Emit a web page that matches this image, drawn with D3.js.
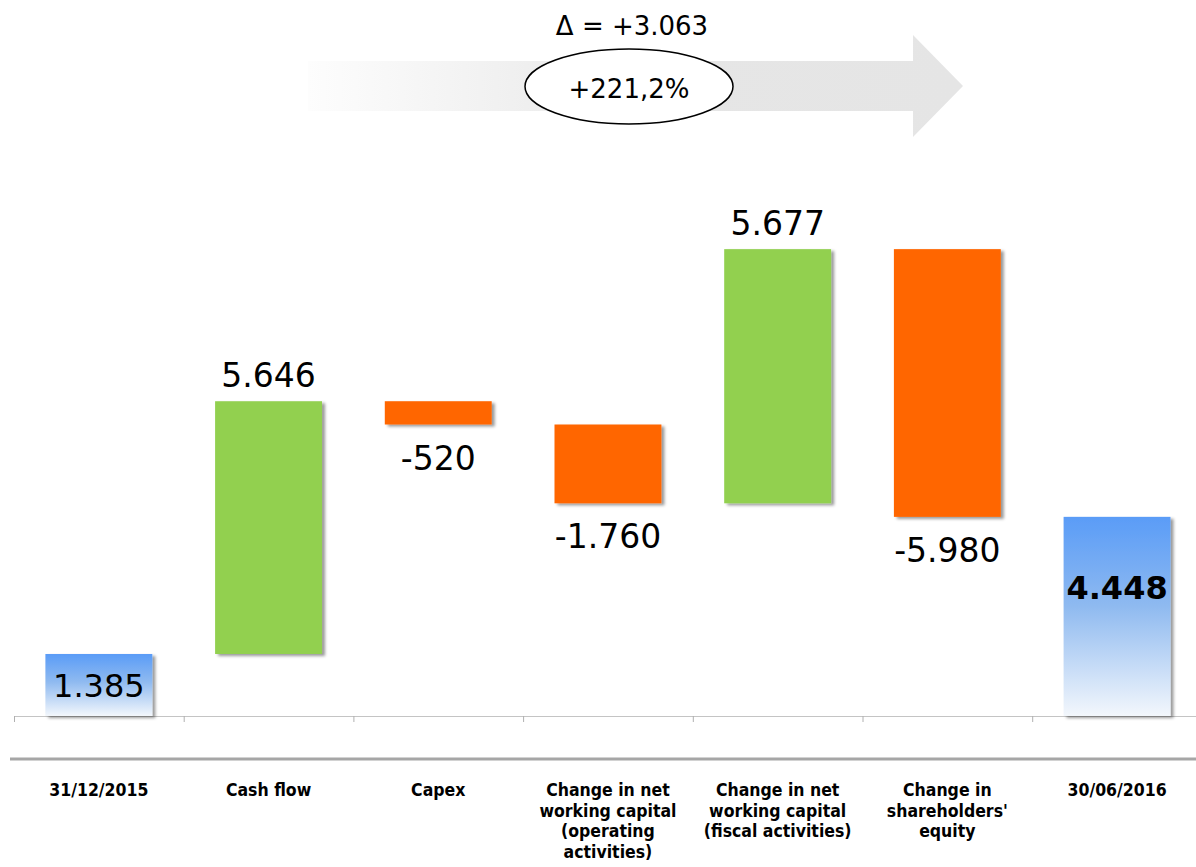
<!DOCTYPE html>
<html>
<head>
<meta charset="utf-8">
<script src="https://cdnjs.cloudflare.com/ajax/libs/d3/7.8.5/d3.min.js"></script>
<style>
  body { margin: 0; background: #fff; }
  svg { display: block; font-family: "DejaVu Sans", Verdana, sans-serif; }
</style>
</head>
<body>
<div id="chart"></div>
<script>
// Waterfall: net financial position bridge 31/12/2015 -> 30/06/2016
var categories = ["31/12/2015", "Cash flow", "Capex", "NWC operating", "NWC fiscal", "Equity", "30/06/2016"];
var categoryLabels = [
	["31/12/2015"],
	["Cash flow"],
	["Capex"],
	["Change in net", "working capital", "(operating", "activities)"],
	["Change in net", "working capital", "(fiscal activities)"],
	["Change in", "shareholders'", "equity"],
	["30/06/2016"]
];
var barTypes = ["total", "delta", "delta", "delta", "delta", "delta", "total"];
var values = [1385, 5646, -520, -1760, 5677, -5980, 4448];

var W = 1196, H = 867;
var baseY = 716;

var it = d3.formatLocale({decimal: ",", thousands: ".", grouping: [3], currency: ["", "€"], minus: "-"});
var fmt = it.format(",d");
var pct = it.format("+.1f");

// running totals
var run = 0;
var bars = values.map(function(v, i) {
	var d = {cat: categories[i], type: barTypes[i], value: v, lines: categoryLabels[i]};
	if (barTypes[i] == "total") {
		d.start = 0; d.end = v; run = v;
	} else {
		d.start = run; d.end = run + v; run = d.end;
	}
	return d;
});

var x = d3.scaleBand()
	.domain(categories)
	.range([14, 14 + 7 * 169.7])
	.paddingInner(0.37)
	.paddingOuter(0.185);

var y = d3.scaleLinear()
	.domain([0, 6000])
	.range([baseY, baseY - 6000 * 0.04477]);

var svg = d3.select("#chart").append("svg")
	.attr("width", W)
	.attr("height", H);

var defs = svg.append("defs");

var blue = defs.append("linearGradient")
	.attr("id", "blueGrad")
	.attr("x1", 0).attr("y1", 0).attr("x2", 0).attr("y2", 1);
blue.append("stop").attr("offset", "0%").attr("stop-color", "#5a9cf7");
blue.append("stop").attr("offset", "45%").attr("stop-color", "#8fbaf0");
blue.append("stop").attr("offset", "100%").attr("stop-color", "#f3f7fc");

var grey = defs.append("linearGradient")
	.attr("id", "arrowGrad")
	.attr("gradientUnits", "userSpaceOnUse")
	.attr("x1", 308).attr("y1", 0).attr("x2", 963).attr("y2", 0);
grey.append("stop").attr("offset", "0%").attr("stop-color", "#fdfdfd");
grey.append("stop").attr("offset", "55%").attr("stop-color", "#e6e6e6");
grey.append("stop").attr("offset", "100%").attr("stop-color", "#e5e5e5");

var shadow = defs.append("filter")
	.attr("id", "shadow")
	.attr("x", "-10%").attr("y", "-10%").attr("width", "130%").attr("height", "130%");
shadow.append("feDropShadow")
	.attr("dx", 3).attr("dy", 2)
	.attr("stdDeviation", 1.6)
	.attr("flood-color", "#000")
	.attr("flood-opacity", 0.4);

//// top arrow with delta
var aY = 86;
svg.append("path")
	.attr("d", "M308," + (aY - 25) + "L913," + (aY - 25) + "L913," + (aY - 51) +
		"L963," + aY + "L913," + (aY + 51) + "L913," + (aY + 25) + "L308," + (aY + 25) + "Z")
	.style("fill", "url(#arrowGrad)");

var delta = values[values.length - 1] - values[0];
svg.append("text")
	.attr("x", 632).attr("y", 35)
	.style("font-size", "26px")
	.style("text-anchor", "middle")
	.text("\u0394 = +" + fmt(delta));

svg.append("ellipse")
	.attr("cx", 629).attr("cy", aY + 0.5)
	.attr("rx", 104).attr("ry", 37.5)
	.style("fill", "#fff")
	.style("stroke", "#000")
	.style("stroke-width", 1.5);

svg.append("text")
	.attr("x", 629).attr("y", 98)
	.style("font-size", "26px")
	.style("text-anchor", "middle")
	.text(pct(delta / values[0] * 100) + "%");

//// axes
svg.append("line")
	.attr("x1", x.range()[0]).attr("x2", W)
	.attr("y1", baseY + 0.5).attr("y2", baseY + 0.5)
	.style("stroke", "#c4c4c4").style("stroke-width", 1);

svg.selectAll(".tick")
	.data(d3.range(categories.length + 1))
	.enter()
	.append("line")
		.attr("class", "tick")
		.attr("x1", function(i) { return x.range()[0] + i * x.step() + 0.5; })
		.attr("x2", function(i) { return x.range()[0] + i * x.step() + 0.5; })
		.attr("y1", baseY).attr("y2", baseY + 6)
		.style("stroke", "#b0b0b0");

svg.append("line")
	.attr("x1", 10).attr("x2", W)
	.attr("y1", 759).attr("y2", 759)
	.style("stroke", "#a6a6a6").style("stroke-width", 3);

//// bars
svg.selectAll(".bar")
	.data(bars)
	.enter()
	.append("rect")
		.attr("class", "bar")
		.attr("x", function(d) { return x(d.cat); })
		.attr("width", x.bandwidth())
		.attr("y", function(d) { return y(Math.max(d.start, d.end)); })
		.attr("height", function(d) { return Math.abs(y(d.start) - y(d.end)); })
		.attr("filter", "url(#shadow)")
		.style("fill", function(d) {
			if (d.type == "total") { return "url(#blueGrad)"; }
			return d.value > 0 ? "#92d050" : "#ff6600";
		});

//// value labels
svg.selectAll(".vlabel")
	.data(bars)
	.enter()
	.append("text")
		.attr("class", "vlabel")
		.attr("x", function(d) { return x(d.cat) + x.bandwidth() / 2; })
		.attr("y", function(d) {
			var top = y(Math.max(d.start, d.end)), bot = y(Math.min(d.start, d.end));
			if (d.type == "total") { return top + Math.min((bot - top) / 2, 70) + 12; }
			if (d.value > 0) { return top - 14; }
			return bot + 45;
		})
		.style("text-anchor", "middle")
		.style("font-size", function(d) { return d.type == "total" ? "32px" : "33px"; })
		.style("font-weight", function(d, i) { return i == bars.length - 1 ? "bold" : "normal"; })
		.style("fill", "#000")
		.text(function(d) { return fmt(d.value); });

//// category labels, centred under each bar
var cat = svg.selectAll(".clabel")
	.data(bars)
	.enter()
	.append("text")
		.attr("class", "clabel")
		.attr("x", function(d) { return x(d.cat) + x.bandwidth() / 2; })
		.attr("y", 796)
		.style("text-anchor", "middle")
		.style("font-family", "'DejaVu Sans Condensed', 'DejaVu Sans', sans-serif")
		.style("font-size", "17.5px")
		.style("font-weight", "bold");

cat.selectAll("tspan")
	.data(function(d) { return d.lines.map(function(l) { return {t: l, cat: d.cat}; }); })
	.enter()
	.append("tspan")
		.attr("x", function(l) { return x(l.cat) + x.bandwidth() / 2; })
		.attr("dy", function(l, j) { return j == 0 ? 0 : 20.5; })
		.text(function(l) { return l.t; });
</script>
</body>
</html>
